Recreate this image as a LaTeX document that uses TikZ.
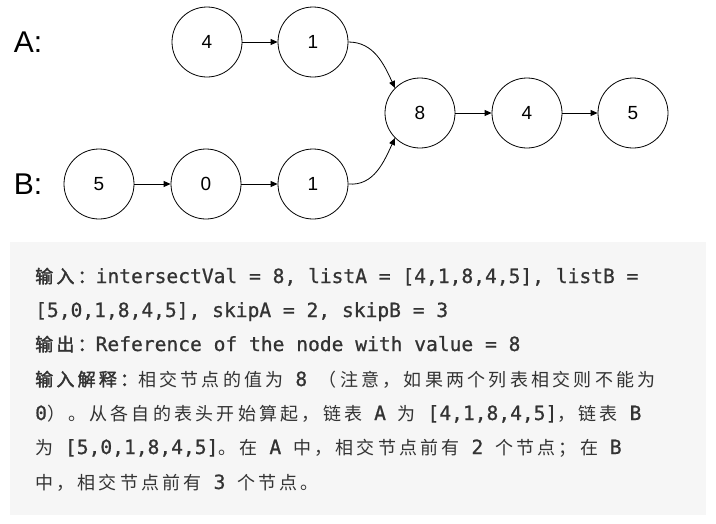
\documentclass[tikz,border=0pt]{standalone}
\usepackage{fontspec}
\setmainfont{Liberation Sans}
\newfontfamily\cjkf[LetterSpace=18]{Noto Sans CJK SC}
\newfontfamily\cjkbf[LetterSpace=18,FakeBold=2]{Noto Sans CJK SC}
\newfontfamily\monof[FakeBold=0.8]{DejaVu Sans Mono}
\newcommand\cjk{\cjkf\fontsize{18}{18}\selectfont}
\newcommand\cjkb{\cjkbf\fontsize{18}{18}\selectfont}
\newcommand\mono{\monof\fontsize{19.6}{19.6}\selectfont}
\usetikzlibrary{arrows.meta}
\definecolor{txt}{HTML}{333333}
\definecolor{boxbg}{HTML}{F6F6F6}
\begin{document}
\begin{tikzpicture}[x=1pt,y=-1pt,
  lnode/.style={circle,draw,line width=0.8pt,minimum size=70pt,inner sep=0pt,font=\fontsize{19}{19}\selectfont},
  arr/.style={-{Triangle[length=7pt,width=6pt]},line width=0.8pt},
  line/.style={anchor=base west,inner sep=0pt,text=txt}]
\useasboundingbox (0,0) rectangle (716,523);
\fill[white] (0,0) rectangle (716,523);
\node[font=\fontsize{30}{30}\selectfont] (la) at (28,42) {A:};
\node[font=\fontsize{30}{30}\selectfont] (lb) at (28,184) {B:};
\node[lnode] (a4) at (207,42) {4};
\node[lnode] (a1) at (313,42) {1};
\node[lnode] (c8) at (420,113) {8};
\node[lnode] (c4) at (527,113) {4};
\node[lnode] (c5) at (633,113) {5};
\node[lnode] (b5) at (99,184) {5};
\node[lnode] (b0) at (206,184) {0};
\node[lnode] (b1) at (313,184) {1};
\draw[arr] (a4) -- (a1);
\draw[arr] (b5) -- (b0);
\draw[arr] (b0) -- (b1);
\draw[arr] (c8) -- (c4);
\draw[arr] (c4) -- (c5);
\draw[arr] (a1.east) to[out=0,in=115] (c8.135);
\draw[arr] (b1.east) to[out=-5,in=-115] (c8.225);
\fill[boxbg] (10,242) rectangle (706,515);
\node[line] (t1) at (35,283) {{\cjkb 输入：}{\mono intersectVal = 8, listA = [4,1,8,4,5], listB =}};
\node[line] (t2) at (35,317) {{\mono [5,0,1,8,4,5], skipA = 2, skipB = 3}};
\node[line] (t3) at (35,351) {{\cjkb 输出：}{\mono Reference of the node with value = 8}};
\node[line] (t4) at (35,386) {{\cjkb 输入解释：}{\cjk 相交节点的值为}{\mono{} 8 }{\cjk （注意，如果两个列表相交则不能为}};
\node[line] (t5) at (35,420) {{\mono 0}{\cjk ）。从各自的表头开始算起，链表}{\mono{} A }{\cjk 为}{\mono{} [4,1,8,4,5]}{\cjk ，链表}{\mono{} B}};
\node[line] (t6) at (35,454) {{\cjk 为}{\mono{} [5,0,1,8,4,5]}{\cjk 。在}{\mono{} A }{\cjk 中，相交节点前有}{\mono{} 2 }{\cjk 个节点；在}{\mono{} B}};
\node[line] (t7) at (35,489) {{\cjk 中，相交节点前有}{\mono{} 3 }{\cjk 个节点。}};
\end{tikzpicture}
\end{document}
